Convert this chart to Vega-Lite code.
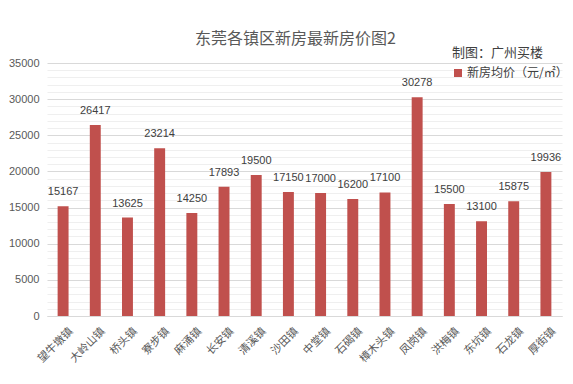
{
  "$schema": "https://vega.github.io/schema/vega-lite/v6.json",
  "autosize": "none",
  "width": 515,
  "height": 253,
  "padding": {"left": 47, "top": 63, "right": 11, "bottom": 68},
  "background": "white",
  "config": {
    "font": "Noto Sans CJK SC",
    "view": {"stroke": null}
  },
  "title": {
    "text": "东莞各镇区新房最新房价图2",
    "fontSize": 16,
    "fontWeight": "normal",
    "color": "#595959",
    "font": "Noto Sans CJK SC",
    "anchor": "middle",
    "frame": "group",
    "dx": -9,
    "dy": 17,
    "offset": 17
  },
  "data": {
    "values": [
      {"town": "望牛墩镇", "price": 15167},
      {"town": "大岭山镇", "price": 26417},
      {"town": "桥头镇", "price": 13625},
      {"town": "寮步镇", "price": 23214},
      {"town": "麻涌镇", "price": 14250},
      {"town": "长安镇", "price": 17893},
      {"town": "清溪镇", "price": 19500},
      {"town": "沙田镇", "price": 17150},
      {"town": "中堂镇", "price": 17000},
      {"town": "石碣镇", "price": 16200},
      {"town": "樟木头镇", "price": 17100},
      {"town": "凤岗镇", "price": 30278},
      {"town": "洪梅镇", "price": 15500},
      {"town": "东坑镇", "price": 13100},
      {"town": "石龙镇", "price": 15875},
      {"town": "厚街镇", "price": 19936}
    ]
  },
  "encoding": {
    "x": {
      "field": "town",
      "type": "nominal",
      "sort": null,
      "scale": {"paddingInner": 0.66, "paddingOuter": 0.33},
      "axis": {
        "title": null,
        "labelAngle": -45,
        "labelFontSize": 11,
        "labelColor": "#595959",
        "labelFont": "Noto Sans CJK SC",
        "labelPadding": 9,
        "labelOffset": 4,
        "ticks": false,
        "domainColor": "#d9d9d9",
        "domainWidth": 1,
        "grid": false
      }
    },
    "y": {
      "field": "price",
      "type": "quantitative",
      "scale": {"domain": [0, 35000], "nice": false},
      "axis": {
        "title": null,
        "values": [0,1000,2000,3000,4000,5000,6000,7000,8000,9000,10000,11000,12000,13000,14000,15000,16000,17000,18000,19000,20000,21000,22000,23000,24000,25000,26000,27000,28000,29000,30000,31000,32000,33000,34000,35000],
        "labelExpr": "datum.value % 5000 === 0 ? datum.value : ''",
        "labelFontSize": 11,
        "labelColor": "#595959",
        "labelFont": "Liberation Sans",
        "labelPadding": 8,
        "ticks": false,
        "domain": false,
        "grid": true,
        "gridColor": {"condition": {"test": "datum.value % 5000 === 0", "value": "#d9d9d9"}, "value": "#efefef"},
        "gridWidth": 1
      }
    }
  },
  "layer": [
    {
      "mark": {"type": "bar"},
      "encoding": {
        "color": {
          "datum": "新房均价（元/㎡）",
          "type": "nominal",
          "scale": {"range": ["#c0504d"]},
          "legend": {
            "title": "制图：广州买楼",
            "orient": "none",
            "legendX": 405,
            "legendY": -16,
            "titleFontSize": 13,
            "titleFontWeight": "normal",
            "titleColor": "#404040",
            "titleFont": "Noto Sans CJK SC",
            "titlePadding": 7,
            "labelFontSize": 12,
            "labelColor": "#404040",
            "labelFont": "Noto Sans CJK SC",
            "labelOffset": 3,
            "symbolType": "square",
            "symbolSize": 64,
            "symbolStrokeWidth": 0,
            "padding": 0
          }
        }
      }
    },
    {
      "mark": {"type": "text", "baseline": "alphabetic", "dy": -11, "fontSize": 11, "color": "#404040", "font": "Liberation Sans"},
      "encoding": {
        "text": {"field": "price", "type": "quantitative", "format": "d"}
      }
    }
  ]
}
